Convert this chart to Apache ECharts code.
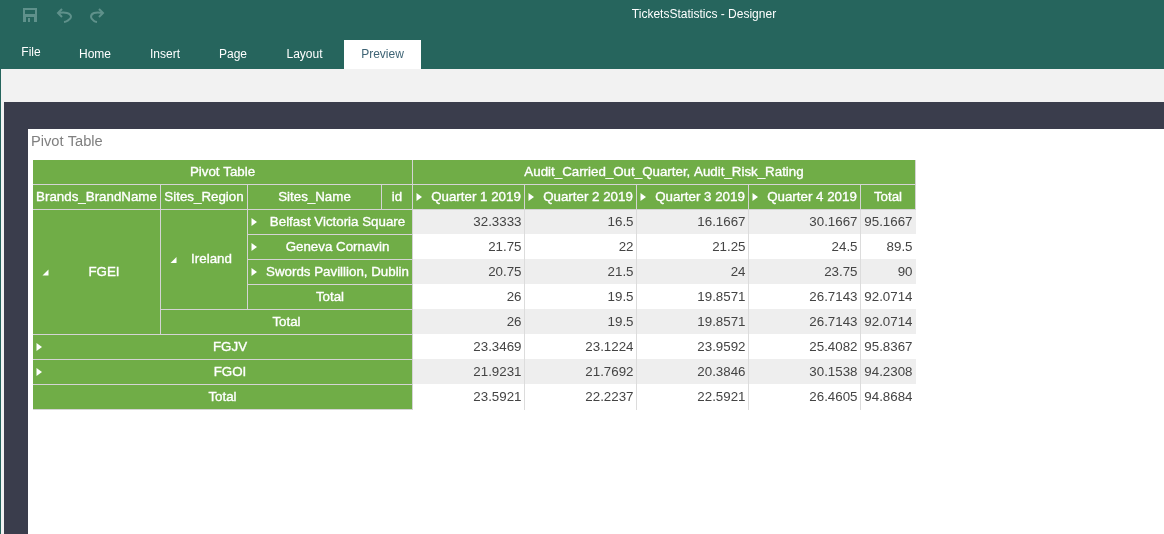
<!DOCTYPE html>
<html>
<head>
<meta charset="utf-8">
<style>html,body{margin:0;padding:0;background:#fff}#main{width:1164px;height:534px}</style>
<script src="https://cdn.jsdelivr.net/npm/echarts@6/dist/echarts.min.js"></script>
</head>
<body>
<div id="main"></div>
<script>
// table content
var quarters = ["Quarter 1 2019", "Quarter 2 2019", "Quarter 3 2019", "Quarter 4 2019"]
var rowNames = ["Belfast Victoria Square", "Geneva Cornavin", "Swords Pavillion, Dublin", "Total", "Total", "FGJV", "FGOI", "Total"]
var q1 = [32.3333, 21.75, 20.75, 26, 26, 23.3469, 21.9231, 23.5921]
var q2 = [16.5, 22, 21.5, 19.5, 19.5, 23.1224, 21.7692, 22.2237]
var q3 = [16.1667, 21.25, 24, 19.8571, 19.8571, 23.9592, 20.3846, 22.5921]
var q4 = [30.1667, 24.5, 23.75, 26.7143, 26.7143, 25.4082, 30.1538, 26.4605]
var totals = [95.1667, 89.5, 90, 92.0714, 92.0714, 95.8367, 94.2308, 94.8684]

// layout of the pivot, in axis units
var colEdges = [33, 161, 248, 382, 413, 525, 637, 749, 861, 916]
var rowEdges = [160, 185, 210, 235, 260, 285, 310, 335, 360, 385, 410]

var GREEN = "#70ad47", LINE = "#d4d4d4", ALT = "#eeeeee", ICON = "#5f918b", BAR = "#26655d", FONT = "Liberation Sans, Arial, sans-serif"

// [text, firstCol, lastCol, firstRow, lastRow, arrow]  arrow: "" | "right" | "open"
var headerCells = [
    ["Pivot Table", 0, 3, 0, 0, ""],
    ["Audit_Carried_Out_Quarter, Audit_Risk_Rating", 4, 8, 0, 0, ""],
    ["Brands_BrandName", 0, 0, 1, 1, ""],
    ["Sites_Region", 1, 1, 1, 1, ""],
    ["Sites_Name", 2, 2, 1, 1, ""],
    ["id", 3, 3, 1, 1, ""],
    [quarters[0], 4, 4, 1, 1, "right"],
    [quarters[1], 5, 5, 1, 1, "right"],
    [quarters[2], 6, 6, 1, 1, "right"],
    [quarters[3], 7, 7, 1, 1, "right"],
    ["Total", 8, 8, 1, 1, ""],
    ["FGEI", 0, 0, 2, 6, "open"],
    ["Ireland", 1, 1, 2, 5, "open"],
    [rowNames[0], 2, 3, 2, 2, "right"],
    [rowNames[1], 2, 3, 3, 3, "right"],
    [rowNames[2], 2, 3, 4, 4, "right"],
    [rowNames[3], 2, 3, 5, 5, ""],
    [rowNames[4], 1, 3, 6, 6, ""],
    [rowNames[5], 0, 3, 7, 7, "right"],
    [rowNames[6], 0, 3, 8, 8, "right"],
    [rowNames[7], 0, 3, 9, 9, ""]
]

var valueCols = [q1, q2, q3, q4, totals]
var valueCells = []
valueCols.forEach(function(col, c) {
    col.forEach(function(v, r) { valueCells.push([c + 4, r + 2, v]) })
})

function cornerOf(api, col, row) { return api.coord([colEdges[col], rowEdges[row]]) }

function renderHeader(params, api) {
    var cell = headerCells[params.dataIndex]
    var a = cornerOf(api, cell[1], cell[3]), b = cornerOf(api, cell[2] + 1, cell[4] + 1)
    var cx = (a[0] + b[0]) / 2 - 0.5, cy = (a[1] + b[1]) / 2 - 0.5, kids = [
        {type: "rect", shape: {x: a[0], y: a[1], width: b[0] - a[0], height: b[1] - a[1]}, style: {fill: GREEN}},
        {type: "line", shape: {x1: b[0] - 0.5, y1: a[1], x2: b[0] - 0.5, y2: b[1]}, style: {stroke: LINE, lineWidth: 1}},
        {type: "line", shape: {x1: a[0], y1: b[1] - 0.5, x2: b[0], y2: b[1] - 0.5}, style: {stroke: LINE, lineWidth: 1}}
    ]
    if (cell[5]) cx += 7.5
    if (cell[5] == "right") {
        var ax = a[0] + 3.5
        kids.push({type: "polygon", shape: {points: [[ax, cy - 4], [ax + 5.5, cy], [ax, cy + 4]]}, style: {fill: "#fff"}})
    }
    if (cell[5] == "open") {
        var ox = a[0] + 9.5
        kids.push({type: "polygon", shape: {points: [[ox, cy + 3.5], [ox + 6, cy + 3.5], [ox + 6, cy - 2.5]]}, style: {fill: "#fff"}})
    }
    // regular face with a hairline stroke, the original is not a true bold
    kids.push({type: "text", style: {text: cell[0], x: cx, y: cy, fill: "#fff", stroke: "#fff", lineWidth: 0.35, align: "center", verticalAlign: "middle", font: "13.33px " + FONT}})
    return {type: "group", children: kids}
}

function renderValue(params, api) {
    var col = api.value(0), row = api.value(1)
    var a = cornerOf(api, col, row), b = cornerOf(api, col + 1, row + 1)
    return {type: "group", children: [
        {type: "rect", shape: {x: a[0], y: a[1] - 1, width: b[0] - a[0], height: b[1] - a[1]}, style: {fill: row % 2 == 0 ? ALT : "#fff"}},
        {type: "line", shape: {x1: b[0] - 0.5, y1: a[1] - 1, x2: b[0] - 0.5, y2: b[1]}, style: {stroke: col == 8 ? "transparent" : "#dcdcdc", lineWidth: 1}},
        {type: "text", style: {text: String(api.value(2)), x: b[0] - 3.5, y: (a[1] + b[1]) / 2 - 0.5, fill: "#444", align: "right", verticalAlign: "middle", font: "13.33px " + FONT}}
    ]}
}

function curve(points) {
    return {type: "polyline", shape: {points: points, smooth: 0.4}, style: {stroke: ICON, lineWidth: 2, fill: "none"}}
}

// window chrome around the table
var tabs = [["File", 31, 53], ["Home", 95, 55], ["Insert", 165, 55], ["Page", 233, 55], ["Layout", 304.5, 55]]
var chrome = [
    {type: "rect", z: -5, shape: {x: 0, y: 0, width: 1164, height: 534}, style: {fill: "#f2f2f2"}},
    {type: "rect", z: -5, shape: {x: 0, y: 0, width: 1164, height: 69}, style: {fill: BAR}},
    {type: "rect", z: -5, shape: {x: 0, y: 69, width: 1, height: 465}, style: {fill: BAR}},
    {type: "rect", z: -5, shape: {x: 4, y: 102, width: 1160, height: 432}, style: {fill: "#3a3d4c"}},
    {type: "rect", z: -5, shape: {x: 28, y: 129, width: 1136, height: 405}, style: {fill: "#fff"}},
    {type: "rect", z: -5, shape: {x: 344, y: 40, width: 77, height: 29}, style: {fill: "#fff"}},
    {type: "text", style: {text: "TicketsStatistics - Designer", x: 704, y: 15, fill: "#fff", align: "center", verticalAlign: "middle", font: "12px " + FONT}},
    {type: "text", style: {text: "Preview", x: 382.5, y: 55, fill: "#3f6475", align: "center", verticalAlign: "middle", font: "12px " + FONT}},
    {type: "text", style: {text: "Pivot Table", x: 31, y: 142, fill: "#808080", align: "left", verticalAlign: "middle", font: "14.67px " + FONT}},
    // save icon
    {type: "rect", shape: {x: 23, y: 8, width: 14, height: 14}, style: {fill: ICON}},
    {type: "rect", shape: {x: 25, y: 10, width: 10, height: 4}, style: {fill: BAR}},
    {type: "rect", shape: {x: 26, y: 17, width: 8, height: 5}, style: {fill: BAR}},
    {type: "rect", shape: {x: 28, y: 18, width: 2, height: 4}, style: {fill: ICON}},
    // undo
    {type: "polyline", shape: {points: [[62, 9], [58, 13], [62, 17]]}, style: {stroke: ICON, lineWidth: 2, fill: "none"}},
    curve([[58, 13], [67, 13], [71, 17], [67, 21], [64, 22]]),
    // redo
    {type: "polyline", shape: {points: [[99, 9], [103, 13], [99, 17]]}, style: {stroke: ICON, lineWidth: 2, fill: "none"}},
    curve([[103, 13], [94, 13], [91, 17], [94, 21], [97, 22]])
].concat(tabs.map(function(t) {
    return {type: "text", style: {text: t[0], x: t[1], y: t[2], fill: "#fff", align: "center", verticalAlign: "middle", font: "12px " + FONT}}
}))

var chart = echarts.init(document.getElementById("main"), null, {renderer: "canvas"})
chart.setOption({
    animation: false,
    graphic: {elements: chrome},
    grid: {left: 0, right: 0, top: 0, bottom: 0},
    xAxis: {type: "value", min: 0, max: 1164, show: false},
    yAxis: {type: "value", min: 0, max: 534, inverse: true, show: false},
    series: [
        {type: "custom", coordinateSystem: "cartesian2d", z: 3, renderItem: renderHeader, encode: {x: 0, y: 1},
            data: headerCells.map(function(c) { return [c[1], c[3]] })},
        {type: "custom", coordinateSystem: "cartesian2d", z: 2, renderItem: renderValue, encode: {x: 0, y: 1},
            data: valueCells}
    ]
})
</script>
</body>
</html>
